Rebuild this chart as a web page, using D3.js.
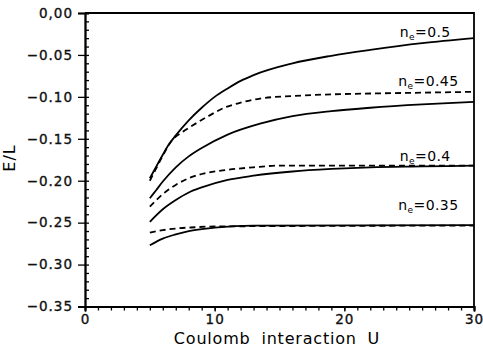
<!DOCTYPE html>
<html>
<head>
<meta charset="utf-8">
<script src="https://cdn.jsdelivr.net/npm/d3@7"></script>
<style>
  body { margin: 0; background: #fff; }
  svg { display: block; }
  .tick text { font-family: "DejaVu Sans", sans-serif; font-size: 13.5px; fill: #111; stroke: #111; stroke-width: 0.35px; letter-spacing: 1px; }
  .domain { stroke: #000; stroke-width: 1.8; }
  .tick line { stroke: #000; stroke-width: 1.3; }
</style>
</head>
<body>
<div id="chart"></div>
<script>
//////////////// DATA ////////////////

// Energy per site E/L against Coulomb interaction U, [U, E/L]
var solid05  = [[5,-0.197],[5.5,-0.183],[6,-0.169],[6.5,-0.156],[7,-0.146],[8,-0.128],[9,-0.113],[10,-0.100],[11,-0.090],[12,-0.081],[13,-0.074],[16,-0.060],[19,-0.051],[22,-0.044],[26,-0.036],[30,-0.030]];
var dashed045 = [[5,-0.200],[5.5,-0.185],[6,-0.170],[6.7,-0.152],[7.5,-0.142],[8.1,-0.136],[9.4,-0.124],[10.9,-0.112],[12,-0.107],[13.5,-0.102],[16,-0.099],[19,-0.097],[22,-0.096],[26,-0.095],[30,-0.094]];
var solid045 = [[5,-0.221],[5.5,-0.211],[6,-0.201],[7,-0.184],[8,-0.171],[9,-0.161],[11,-0.145],[13.5,-0.132],[16,-0.123],[19,-0.117],[22,-0.113],[26,-0.109],[30,-0.106]];
var dashed04 = [[5,-0.231],[6,-0.216],[7,-0.205],[8,-0.197],[9,-0.192],[11,-0.187],[13,-0.184],[15,-0.182],[20,-0.182],[30,-0.182]];
var solid04  = [[5,-0.249],[6,-0.234],[7,-0.223],[8,-0.214],[9,-0.208],[11,-0.199],[13,-0.194],[16,-0.189],[19,-0.186],[22,-0.184],[26,-0.183],[30,-0.182]];
var dashed035 = [[5,-0.262],[6,-0.259],[7,-0.257],[8.5,-0.2555],[10,-0.2545],[30,-0.2535]];
var solid035 = [[5,-0.277],[6,-0.269],[7,-0.264],[8,-0.260],[10,-0.256],[13,-0.2535],[30,-0.253]];

// Curve labels: density value and the U/E spot where the label sits
var labelValues = ["0.5", "0.45", "0.4", "0.35"];
var labelSpots = [[28.2,-0.0285], [28.8,-0.0865], [28.2,-0.176], [28.8,-0.235]];

var yMajorTicks = [0, -0.05, -0.10, -0.15, -0.20, -0.25, -0.30, -0.35];
var xMajorTicks = [0, 10, 20, 30];

//////////////// CHART ////////////////

var W = 483, H = 352,
    margin = {top: 13, left: 85, right: 9, bottom: 45.5};

var svg = d3.select("#chart").append("svg")
    .attr("width", W)
    .attr("height", H);

var xScale = d3.scaleLinear().domain([0, 30]).range([margin.left, W - margin.right]);
var yScale = d3.scaleLinear().domain([-0.35, 0]).range([H - margin.bottom, margin.top]);

// Frame: top and right lines
svg.append("path")
    .attr("d", "M" + xScale(0) + "," + yScale(0) + "H" + xScale(30) + "V" + yScale(-0.35))
    .attr("fill", "none")
    .attr("stroke", "#000")
    .attr("stroke-width", 1.8);

// Y axis - minor ticks pointing in, majors sticking out with labels
svg.append("g")
    .attr("transform", "translate(" + xScale(0) + ",0)")
    .call(d3.axisRight(yScale).tickValues(d3.range(-35, 1).map(function(d) { return d / 100; }))
        .tickSize(4).tickFormat(""));

svg.append("g")
    .attr("transform", "translate(" + xScale(0) + ",0)")
    .call(d3.axisLeft(yScale).tickValues(yMajorTicks).tickSize(7).tickPadding(5)
        .tickFormat(function(d) { return d === 0 ? "0,00" : d3.format(".2f")(d).replace("-", "\u2212"); }));

// X axis - a tick for every unit, labels every ten
svg.append("g")
    .attr("transform", "translate(0," + yScale(-0.35) + ")")
    .call(d3.axisBottom(xScale).tickValues(d3.range(0, 31)).tickSize(4).tickFormat(""));

svg.append("g")
    .attr("transform", "translate(0," + yScale(-0.35) + ")")
    .call(d3.axisBottom(xScale).tickValues(xMajorTicks).tickSize(5).tickPadding(3)
        .tickFormat(d3.format("d")));

svg.selectAll(".domain").attr("stroke-width", 1.8);

// Curves
var line = d3.line()
    .x(function(d) { return xScale(d[0]); })
    .y(function(d) { return yScale(d[1]); })
    .curve(d3.curveMonotoneX);

var curves = [
    {data: dashed045, dash: "6,4"},
    {data: dashed04, dash: "6,4"},
    {data: dashed035, dash: "6,4"},
    {data: solid05, dash: null},
    {data: solid045, dash: null},
    {data: solid04, dash: null},
    {data: solid035, dash: null}
];

curves.forEach(function(c) {
    svg.append("path")
        .attr("d", line(c.data))
        .attr("fill", "none")
        .attr("stroke", "#000")
        .attr("stroke-width", 1.8)
        .attr("stroke-dasharray", c.dash);
});

// Labels n_e = ...
labelValues.forEach(function(v, i) {
    var t = svg.append("text")
        .attr("x", xScale(labelSpots[i][0]))
        .attr("y", yScale(labelSpots[i][1]))
        .attr("text-anchor", "end")
        .attr("font-family", "DejaVu Sans, sans-serif")
        .attr("font-size", 14)
        .attr("letter-spacing", 0.4)
        .attr("fill", "#000");
    t.append("tspan").text("n");
    t.append("tspan").attr("font-size", 9).attr("dy", 3).text("e");
    t.append("tspan").attr("dy", -3).text("=" + v);
});

// Axis titles
svg.append("text")
    .attr("x", 277)
    .attr("y", 344)
    .attr("text-anchor", "middle")
    .attr("font-family", "DejaVu Sans, sans-serif")
    .attr("font-size", 16)
    .attr("letter-spacing", 0.8)
    .attr("word-spacing", 5)
    .text("Coulomb interaction U");

svg.append("text")
    .attr("transform", "translate(15,158) rotate(-90)")
    .attr("text-anchor", "middle")
    .attr("font-family", "DejaVu Sans, sans-serif")
    .attr("font-size", 16)
    .attr("letter-spacing", 1)
    .text("E/L");
</script>
</body>
</html>
